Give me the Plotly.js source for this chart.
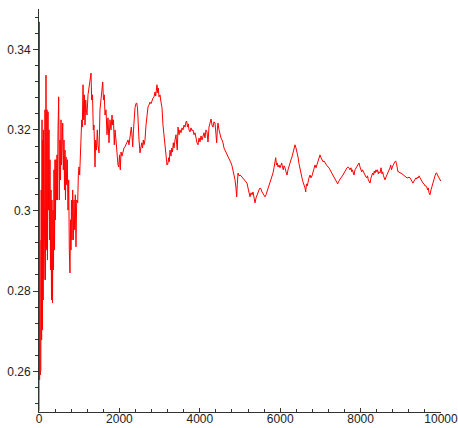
<!DOCTYPE html>
<html>
<head>
<meta charset="utf-8">
<script src="https://cdn.plot.ly/plotly-3.0.1.min.js"></script>
<style>
  html, body { margin: 0; padding: 0; background: #ffffff; }
  #chart { width: 458px; height: 428px; }
</style>
</head>
<body>
<div id="chart"></div>
<script>
// Number of trials (x) and running mean (y)
const steps = [
  0, 7, 15, 22, 30, 37, 45, 55, 65, 75, 85, 95, 104, 114, 124, 137, 149, 162, 174, 187,
  199, 211, 224, 236, 249, 261, 274, 286, 299, 311, 323, 336, 348, 361, 373, 386, 398, 410, 423, 435,
  448, 460, 473, 490, 505, 522, 535, 547, 560, 572, 590, 605, 622, 634, 647, 659, 672, 689, 704, 721,
  739, 754, 771, 784, 796, 808, 821, 838, 853, 871, 888, 903, 920, 938, 963, 978, 995, 1012, 1027, 1045,
  1062, 1077, 1095, 1112, 1127, 1144, 1162, 1177, 1194, 1219, 1244, 1269, 1294, 1311, 1331, 1351, 1368, 1393, 1410, 1430,
  1450, 1468, 1493, 1517, 1542, 1567, 1585, 1604, 1624, 1642, 1667, 1692, 1716, 1741, 1766, 1791, 1816, 1833, 1853, 1873,
  1891, 1915, 1940, 1965, 1983, 2003, 2022, 2040, 2065, 2090, 2114, 2139, 2164, 2189, 2214, 2239, 2264, 2281, 2296, 2313,
  2331, 2351, 2371, 2388, 2413, 2430, 2450, 2470, 2488, 2512, 2537, 2555, 2575, 2595, 2612, 2637, 2662, 2687, 2712, 2736,
  2761, 2786, 2811, 2836, 2861, 2886, 2903, 2918, 2935, 2953, 2968, 2985, 3010, 3035, 3060, 3084, 3109, 3134, 3159, 3184,
  3209, 3226, 3241, 3259, 3284, 3301, 3321, 3341, 3358, 3383, 3408, 3426, 3440, 3458, 3483, 3507, 3532, 3557, 3582, 3607,
  3632, 3657, 3674, 3694, 3714, 3731, 3756, 3781, 3806, 3831, 3856, 3881, 3906, 3930, 3955, 3980, 4005, 4030, 4055, 4080,
  4105, 4129, 4154, 4179, 4204, 4229, 4254, 4279, 4304, 4328, 4353, 4378, 4403, 4420, 4435, 4453, 4478, 4503, 4527, 4552,
  4577, 4602, 4627, 4652, 4677, 4702, 4726, 4751, 4776, 4801, 4826, 4851, 4876, 4900, 4918, 4933, 4950, 4975, 5000, 5025,
  5050, 5075, 5100, 5124, 5149, 5174, 5199, 5224, 5249, 5274, 5299, 5323, 5348, 5373, 5398, 5423, 5448, 5473, 5498, 5522,
  5547, 5572, 5597, 5622, 5647, 5672, 5697, 5721, 5746, 5771, 5796, 5821, 5846, 5871, 5888, 5908, 5928, 5945, 5970, 5995,
  6020, 6037, 6057, 6077, 6095, 6119, 6144, 6169, 6194, 6219, 6244, 6269, 6294, 6318, 6343, 6368, 6393, 6418, 6443, 6468,
  6493, 6517, 6542, 6567, 6592, 6617, 6634, 6654, 6674, 6692, 6716, 6741, 6766, 6791, 6816, 6841, 6866, 6891, 6915, 6940,
  6965, 6990, 7015, 7040, 7065, 7090, 7114, 7139, 7164, 7189, 7214, 7239, 7264, 7289, 7313, 7338, 7363, 7388, 7413, 7430,
  7450, 7470, 7488, 7512, 7530, 7562, 7587, 7612, 7637, 7662, 7687, 7711, 7736, 7761, 7779, 7799, 7818, 7836, 7861, 7886,
  7903, 7923, 7943, 7960, 7985, 8010, 8028, 8047, 8067, 8085, 8110, 8134, 8152, 8172, 8192, 8209, 8234, 8259, 8284, 8301,
  8321, 8341, 8358, 8383, 8401, 8421, 8441, 8458, 8483, 8508, 8532, 8550, 8570, 8590, 8607, 8632, 8657, 8682, 8707, 8731,
  8749, 8769, 8789, 8818, 8838, 8856, 8873, 8893, 8913, 8930, 8955, 8980, 9005, 9030, 9055, 9080, 9104, 9129, 9154, 9179,
  9204, 9229, 9254, 9279, 9303, 9328, 9353, 9378, 9396, 9416, 9435, 9453, 9478, 9502, 9527, 9552, 9577, 9602, 9627, 9644,
  9664, 9684, 9701, 9726, 9751, 9776, 9801, 9826, 9851, 9876, 9893, 9913, 9933, 9950, 9975, 9993
];
const runningMean = [
  0.2503, 0.3468, 0.2580, 0.2927, 0.2592, 0.2778, 0.2604, 0.3051, 0.2679, 0.3225, 0.2704, 0.3175, 0.2778, 0.3200, 0.2828, 0.2952, 0.3250, 0.2828, 0.3336, 0.2902,
  0.3250, 0.2877, 0.3245, 0.3001, 0.3200, 0.2927, 0.3126, 0.2853, 0.3051, 0.2778, 0.3026, 0.2771, 0.3001, 0.2853, 0.3101, 0.2902, 0.3126, 0.2977, 0.3126, 0.3026,
  0.3138, 0.3026, 0.3200, 0.3282, 0.3026, 0.3175, 0.3076, 0.3225, 0.3113, 0.3212, 0.3217, 0.3101, 0.3175, 0.3051, 0.3150, 0.3026, 0.3133, 0.3064, 0.3126, 0.3001,
  0.3076, 0.2902, 0.2845, 0.2977, 0.2902, 0.3026, 0.2927, 0.3051, 0.2927, 0.3026, 0.2952, 0.3039, 0.2910, 0.3026, 0.3019, 0.3088, 0.3108, 0.3088, 0.3138, 0.3175,
  0.3225, 0.3207, 0.3312, 0.3225, 0.3287, 0.3212, 0.3274, 0.3250, 0.3237, 0.3287, 0.3304, 0.3324, 0.3341, 0.3274, 0.3287, 0.3200, 0.3212, 0.3108, 0.3175, 0.3150,
  0.3200, 0.3163, 0.3143, 0.3250, 0.3274, 0.3299, 0.3319, 0.3274, 0.3287, 0.3237, 0.3250, 0.3188, 0.3230, 0.3168, 0.3225, 0.3200, 0.3237, 0.3212, 0.3225, 0.3163,
  0.3200, 0.3175, 0.3126, 0.3113, 0.3108, 0.3138, 0.3101, 0.3145, 0.3135, 0.3150, 0.3155, 0.3158, 0.3163, 0.3170, 0.3175, 0.3163, 0.3188, 0.3195, 0.3207, 0.3188,
  0.3158, 0.3200, 0.3237, 0.3255, 0.3265, 0.3267, 0.3255, 0.3200, 0.3175, 0.3143, 0.3163, 0.3168, 0.3155, 0.3175, 0.3163, 0.3175, 0.3212, 0.3245, 0.3257, 0.3262,
  0.3269, 0.3265, 0.3274, 0.3279, 0.3282, 0.3294, 0.3284, 0.3304, 0.3312, 0.3292, 0.3304, 0.3282, 0.3287, 0.3269, 0.3255, 0.3212, 0.3180, 0.3158, 0.3138, 0.3113,
  0.3118, 0.3131, 0.3121, 0.3150, 0.3135, 0.3155, 0.3145, 0.3168, 0.3155, 0.3175, 0.3188, 0.3163, 0.3150, 0.3207, 0.3188, 0.3200, 0.3193, 0.3205, 0.3200, 0.3212,
  0.3207, 0.3220, 0.3222, 0.3207, 0.3215, 0.3200, 0.3195, 0.3205, 0.3198, 0.3200, 0.3188, 0.3193, 0.3175, 0.3168, 0.3163, 0.3180, 0.3170, 0.3185, 0.3175, 0.3183,
  0.3193, 0.3180, 0.3200, 0.3195, 0.3170, 0.3207, 0.3220, 0.3227, 0.3212, 0.3207, 0.3220, 0.3217, 0.3188, 0.3168, 0.3200, 0.3217, 0.3200, 0.3188, 0.3180, 0.3175,
  0.3168, 0.3155, 0.3150, 0.3143, 0.3138, 0.3135, 0.3131, 0.3126, 0.3118, 0.3111, 0.3101, 0.3088, 0.3076, 0.3056, 0.3034, 0.3064, 0.3093, 0.3086, 0.3088, 0.3086,
  0.3083, 0.3081, 0.3076, 0.3076, 0.3071, 0.3068, 0.3056, 0.3046, 0.3034, 0.3044, 0.3039, 0.3046, 0.3036, 0.3019, 0.3031, 0.3039, 0.3046, 0.3051, 0.3056, 0.3054,
  0.3046, 0.3041, 0.3036, 0.3034, 0.3039, 0.3046, 0.3054, 0.3061, 0.3068, 0.3076, 0.3083, 0.3093, 0.3106, 0.3121, 0.3131, 0.3113, 0.3118, 0.3108, 0.3113, 0.3106,
  0.3113, 0.3118, 0.3108, 0.3101, 0.3111, 0.3106, 0.3096, 0.3088, 0.3101, 0.3111, 0.3118, 0.3126, 0.3133, 0.3145, 0.3155, 0.3163, 0.3155, 0.3145, 0.3133, 0.3116,
  0.3101, 0.3088, 0.3081, 0.3071, 0.3064, 0.3056, 0.3046, 0.3066, 0.3061, 0.3076, 0.3081, 0.3088, 0.3081, 0.3086, 0.3096, 0.3106, 0.3113, 0.3106, 0.3113, 0.3126,
  0.3133, 0.3138, 0.3131, 0.3126, 0.3121, 0.3123, 0.3118, 0.3116, 0.3111, 0.3108, 0.3106, 0.3101, 0.3096, 0.3093, 0.3088, 0.3083, 0.3078, 0.3073, 0.3068, 0.3066,
  0.3071, 0.3076, 0.3078, 0.3081, 0.3083, 0.3088, 0.3093, 0.3098, 0.3103, 0.3106, 0.3108, 0.3106, 0.3101, 0.3106, 0.3096, 0.3101, 0.3093, 0.3088, 0.3101, 0.3106,
  0.3108, 0.3111, 0.3116, 0.3118, 0.3108, 0.3101, 0.3096, 0.3101, 0.3096, 0.3093, 0.3088, 0.3083, 0.3081, 0.3086, 0.3076, 0.3071, 0.3068, 0.3081, 0.3091, 0.3093,
  0.3088, 0.3098, 0.3093, 0.3101, 0.3096, 0.3101, 0.3091, 0.3096, 0.3093, 0.3106, 0.3091, 0.3096, 0.3086, 0.3081, 0.3076, 0.3083, 0.3088, 0.3093, 0.3101, 0.3106,
  0.3113, 0.3101, 0.3108, 0.3116, 0.3118, 0.3121, 0.3123, 0.3116, 0.3106, 0.3096, 0.3096, 0.3093, 0.3093, 0.3091, 0.3088, 0.3086, 0.3086, 0.3083, 0.3081, 0.3081,
  0.3083, 0.3081, 0.3076, 0.3073, 0.3068, 0.3073, 0.3076, 0.3081, 0.3078, 0.3083, 0.3081, 0.3086, 0.3081, 0.3076, 0.3071, 0.3068, 0.3066, 0.3061, 0.3061, 0.3059,
  0.3051, 0.3056, 0.3044, 0.3039, 0.3051, 0.3061, 0.3068, 0.3078, 0.3086, 0.3093, 0.3093, 0.3088, 0.3083, 0.3081, 0.3076, 0.3073
];

// Axis tick settings
const xTickStep = 2000;
const xMinorStep = 400;
const yTickStep = 0.02;
const yMinorStep = 0.004;

const trace = {
  x: steps,
  y: runningMean,
  type: 'scatter',
  mode: 'lines',
  line: { color: '#ff0000', width: 1 },
  hoverinfo: 'skip'
};

const axisFont = { family: 'Liberation Sans, Arial, sans-serif', size: 12, color: '#222222' };

const layout = {
  width: 458,
  height: 428,
  margin: { l: 39, r: 17, t: 9, b: 16 },
  paper_bgcolor: '#ffffff',
  plot_bgcolor: '#ffffff',
  showlegend: false,
  font: axisFont,
  xaxis: {
    range: [0, 10000],
    dtick: xTickStep,
    tick0: 0,
    tickformat: 'd',
    showgrid: false,
    zeroline: false,
    showline: true,
    linecolor: '#333333',
    linewidth: 1,
    ticks: 'inside',
    ticklen: 4,
    tickcolor: '#333333',
    tickfont: axisFont,
    ticklabelstandoff: -4,
    ticklabeloverflow: 'allow',
    minor: { dtick: xMinorStep, ticks: 'inside', ticklen: 3, tickcolor: '#333333', showgrid: false }
  },
  yaxis: {
    range: [0.25, 0.35],
    dtick: yTickStep,
    tick0: 0,
    showgrid: false,
    zeroline: false,
    showline: true,
    linecolor: '#333333',
    linewidth: 1,
    ticks: 'outside',
    ticklen: 5,
    tickcolor: '#333333',
    tickfont: axisFont,
    ticklabeloverflow: 'allow',
    minor: { dtick: yMinorStep, ticks: 'outside', ticklen: 3, tickcolor: '#333333', showgrid: false }
  }
};

Plotly.newPlot('chart', [trace], layout, { staticPlot: true, displayModeBar: false });
</script>
</body>
</html>
